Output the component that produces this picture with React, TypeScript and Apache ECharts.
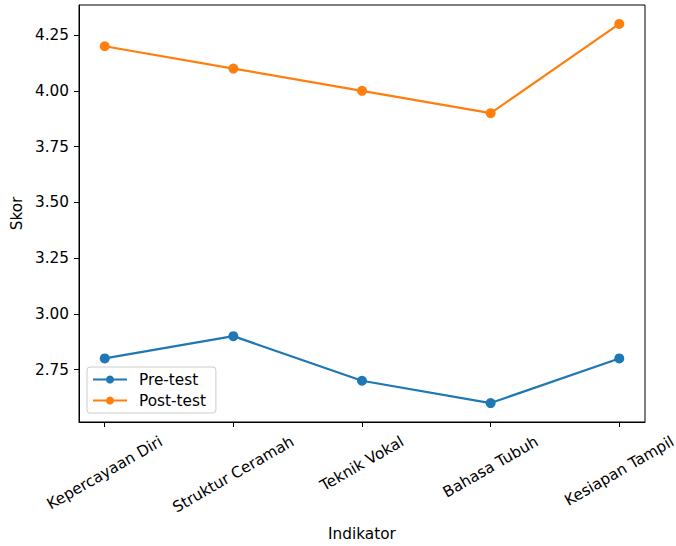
import React, { useEffect, useRef } from "react";
import * as echarts from "echarts";

const categories = ["Kepercayaan Diri", "Struktur Ceramah", "Teknik Vokal", "Bahasa Tubuh", "Kesiapan Tampil"];
const preTest = [2.8, 2.9, 2.7, 2.6, 2.8];
const postTest = [4.2, 4.1, 4.0, 3.9, 4.3];
const yTicks = [2.75, 3.0, 3.25, 3.5, 3.75, 4.0, 4.25];
const xTicks = [0, 1, 2, 3, 4];

const FONT_FAMILY = "'DejaVu Sans', sans-serif";
const FS = 15.3;

export default function App() {
  const ref = useRef<HTMLDivElement>(null);
  useEffect(() => {
    if (!ref.current) return;
    const chart = echarts.init(ref.current, null, { renderer: "svg" });
    const textStyle = { fontFamily: FONT_FAMILY, fontSize: FS, color: "#000" };
    chart.setOption({
      animation: false,
      backgroundColor: "#fff",
      textStyle: { fontFamily: FONT_FAMILY },
      grid: { left: 79, right: 31, top: 5, bottom: 118, show: true, borderColor: "#000", borderWidth: 1, backgroundColor: "transparent" },
      xAxis: {
        type: "value",
        min: -0.2,
        max: 4.2,
        axisLine: { show: true, onZero: false, lineStyle: { color: "#000", width: 1 } },
        axisTick: { show: true, customValues: xTicks, length: 5, lineStyle: { color: "#000", width: 1 } },
        axisLabel: { show: false },
        splitLine: { show: false },
        name: "Indikator",
        nameLocation: "middle",
        nameGap: 104,
        nameTextStyle: textStyle,
      },
      yAxis: {
        type: "value",
        min: 2.515,
        max: 4.385,
        axisLine: { show: true, onZero: false, lineStyle: { color: "#000", width: 1 } },
        axisTick: { show: true, customValues: yTicks, length: 5, lineStyle: { color: "#000", width: 1 } },
        axisLabel: { show: true, customValues: yTicks, formatter: (v: number) => v.toFixed(2), margin: 10, ...textStyle },
        splitLine: { show: false },
        name: "Skor",
        nameLocation: "middle",
        nameGap: 48,
        nameTextStyle: textStyle,
      },
      legend: {
        orient: "vertical",
        left: 87,
        top: 367,
        backgroundColor: "rgba(255,255,255,0.8)",
        borderColor: "#cccccc",
        borderWidth: 1,
        borderRadius: 3,
        padding: [5, 10, 5, 5],
        itemWidth: 34,
        itemHeight: 10,
        itemGap: 6,
        textStyle: { ...textStyle, padding: [0, 0, 0, 7] },
        data: ["Pre-test", "Post-test"],
      },
      series: [
        {
          name: "Pre-test",
          type: "line",
          data: preTest.map((v, i) => [i, v]),
          symbol: "circle",
          symbolSize: 10,
          itemStyle: { color: "#1f77b4" },
          lineStyle: { color: "#1f77b4", width: 2.2 },
        },
        {
          name: "Post-test",
          type: "line",
          data: postTest.map((v, i) => [i, v]),
          symbol: "circle",
          symbolSize: 10,
          itemStyle: { color: "#ff7f0e" },
          lineStyle: { color: "#ff7f0e", width: 2.2 },
        },
      ],
    });

    // rotated category labels (matplotlib-style centered rotation), positioned via the axis scale
    const canvas = document.createElement("canvas");
    const ctx = canvas.getContext("2d")!;
    ctx.font = `${FS}px 'DejaVu Sans'`;
    const ang = Math.PI / 6;
    const h = FS * 1.17;
    const graphics = categories.map((c, i) => {
      const p = chart.convertToPixel({ gridIndex: 0 }, [i, 2.515]) as number[];
      const L = ctx.measureText(c).width;
      const top = p[1] + 5 + 5.5;
      const H = L * Math.sin(ang) + h * Math.cos(ang);
      return {
        type: "text",
        x: p[0],
        y: top + H / 2,
        rotation: ang,
        style: { text: c, font: `${FS}px ${FONT_FAMILY}`, fill: "#000", align: "center", verticalAlign: "middle" },
      };
    });
    chart.setOption({ graphic: graphics });

    return () => chart.dispose();
  }, []);
  return <div ref={ref} style={{ position: "fixed", left: 0, top: 0, width: 676, height: 546 }} />;
}
